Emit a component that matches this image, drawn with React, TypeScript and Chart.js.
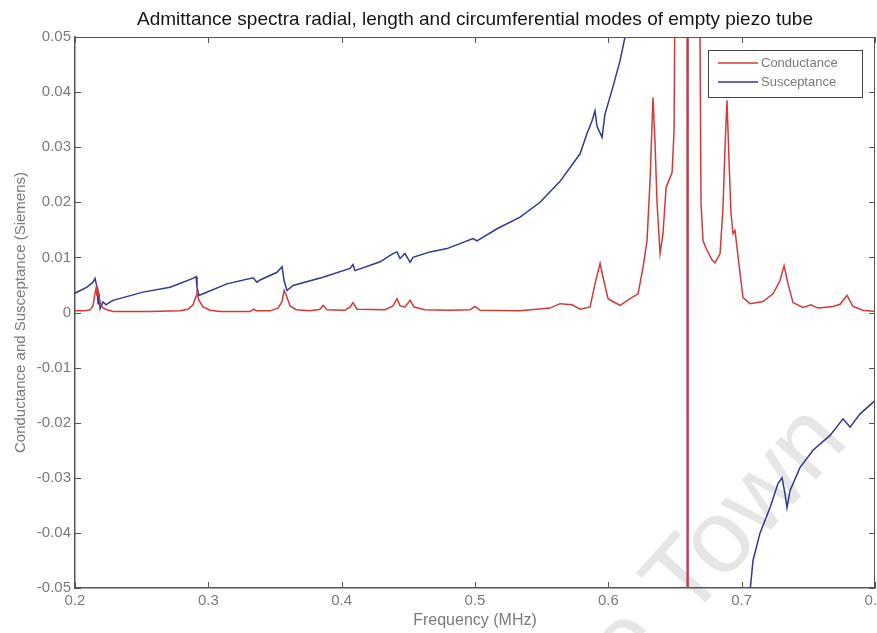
import React, { useEffect, useRef } from "react";
import { Chart, registerables } from "chart.js";

Chart.register(...registerables);

const TITLE = "Admittance spectra radial, length and circumferential modes of empty piezo tube";
const X_LABEL = "Frequency (MHz)";
const Y_LABEL = "Conductance and Susceptance (Siemens)";
const SERIES_NAMES = ["Conductance", "Susceptance"];
const WATERMARK = "University of Cape Town";

const X_TICKS = [0.2, 0.3, 0.4, 0.5, 0.6, 0.7, 0.8];
const Y_TICKS = [-0.05, -0.04, -0.03, -0.02, -0.01, 0, 0.01, 0.02, 0.03, 0.04, 0.05];

// Conductance G (Siemens) against frequency (MHz)
const condFreq = [
  0.2000, 0.2075, 0.2113, 0.2135, 0.2150, 0.2158, 0.2165, 0.2173, 0.2188, 0.2210,
  0.2240, 0.2285, 0.2563, 0.2788, 0.2848, 0.2885, 0.2908, 0.2915, 0.2930, 0.2960,
  0.3013, 0.3088, 0.3313, 0.3343, 0.3358, 0.3463, 0.3523, 0.3553, 0.3568, 0.3583,
  0.3613, 0.3658, 0.3763, 0.3838, 0.3860, 0.3890, 0.4025, 0.4063, 0.4085, 0.4115,
  0.4325, 0.4385, 0.4415, 0.4438, 0.4475, 0.4513, 0.4543, 0.4625, 0.4813, 0.4963,
  0.5000, 0.5038, 0.5338, 0.5563, 0.5638, 0.5728, 0.5788, 0.5863, 0.5900, 0.5938,
  0.5960, 0.5998, 0.6035, 0.6088, 0.6163, 0.6223, 0.6260, 0.6290, 0.6313, 0.6335,
  0.6350, 0.6365, 0.6388, 0.6410, 0.6433, 0.6478, 0.6493, 0.6508, 0.6550, 0.6590,
  0.6594, 0.6597, 0.6640, 0.6680, 0.6695, 0.6710, 0.6740, 0.6778, 0.6800, 0.6838,
  0.6860, 0.6875, 0.6890, 0.6905, 0.6920, 0.6935, 0.6950, 0.6965, 0.6988, 0.7010,
  0.7063, 0.7160, 0.7235, 0.7288, 0.7318, 0.7348, 0.7385, 0.7460, 0.7520, 0.7573,
  0.7685, 0.7738, 0.7790, 0.7835, 0.7910, 0.8000,
];
const condValues = [
  0.0003, 0.0003, 0.0005, 0.0012, 0.0035, 0.0044, 0.0030, 0.0040, 0.0018, 0.0008,
  0.0005, 0.0002, 0.0002, 0.0003, 0.0006, 0.0014, 0.0030, 0.0035, 0.0022, 0.0010,
  0.0004, 0.0002, 0.0002, 0.0006, 0.0003, 0.0003, 0.0008, 0.0020, 0.0040, 0.0032,
  0.0012, 0.0005, 0.0003, 0.0006, 0.0013, 0.0005, 0.0004, 0.0010, 0.0018, 0.0006,
  0.0005, 0.0012, 0.0025, 0.0012, 0.0010, 0.0022, 0.0010, 0.0005, 0.0004, 0.0005,
  0.0011, 0.0004, 0.0003, 0.0008, 0.0016, 0.0014, 0.0006, 0.0010, 0.0052, 0.0089,
  0.0064, 0.0025, 0.0020, 0.0013, 0.0025, 0.0034, 0.0082, 0.0130, 0.0240, 0.0390,
  0.0310, 0.0200, 0.0107, 0.0143, 0.0227, 0.0254, 0.0330, 0.0900, 0.1200, 0.2000,
  -0.3000, 0.2000, 0.1500, 0.0800, 0.0200, 0.0130, 0.0113, 0.0095, 0.0090, 0.0107,
  0.0190, 0.0300, 0.0385, 0.0276, 0.0180, 0.0143, 0.0149, 0.0118, 0.0071, 0.0027,
  0.0016, 0.0020, 0.0034, 0.0058, 0.0085, 0.0052, 0.0018, 0.0009, 0.0014, 0.0008,
  0.0011, 0.0015, 0.0031, 0.0011, 0.0004, 0.0002,
];

// Susceptance B (Siemens) against frequency (MHz)
const suscFreq = [
  0.2000, 0.2090, 0.2135, 0.2150, 0.2165, 0.2173, 0.2180, 0.2188, 0.2210, 0.2233,
  0.2263, 0.2285, 0.2510, 0.2713, 0.2885, 0.2908, 0.2915, 0.2930, 0.2960, 0.3140,
  0.3335, 0.3365, 0.3388, 0.3515, 0.3553, 0.3568, 0.3590, 0.3635, 0.3860, 0.4063,
  0.4085, 0.4100, 0.4288, 0.4385, 0.4415, 0.4438, 0.4475, 0.4513, 0.4535, 0.4663,
  0.4790, 0.4985, 0.5015, 0.5165, 0.5338, 0.5488, 0.5638, 0.5788, 0.5840, 0.5878,
  0.5900, 0.5915, 0.5953, 0.5975, 0.6035, 0.6088, 0.6125, 0.6200, 0.6400, 0.6550,
  0.6593, 0.6595, 0.6650, 0.6900, 0.7063, 0.7085, 0.7138, 0.7213, 0.7273, 0.7303,
  0.7325, 0.7340, 0.7363, 0.7438, 0.7535, 0.7663, 0.7760, 0.7813, 0.7888, 0.8000,
];
const suscValues = [
  0.0035, 0.0046, 0.0055, 0.0062, 0.0046, 0.0016, 0.0035, 0.0007, 0.0019, 0.0014,
  0.0019, 0.0022, 0.0037, 0.0046, 0.0062, 0.0065, 0.0046, 0.0031, 0.0034, 0.0052,
  0.0063, 0.0055, 0.0059, 0.0073, 0.0083, 0.0058, 0.0040, 0.0049, 0.0064, 0.0080,
  0.0087, 0.0076, 0.0092, 0.0107, 0.0110, 0.0098, 0.0107, 0.0091, 0.0100, 0.0110,
  0.0116, 0.0134, 0.0130, 0.0152, 0.0173, 0.0200, 0.0238, 0.0288, 0.0325, 0.0348,
  0.0366, 0.0338, 0.0318, 0.0360, 0.0410, 0.0457, 0.0500, 0.0580, 0.0900, 0.1800,
  0.3000, -0.3000, -0.1500, -0.0750, -0.0505, -0.0450, -0.0400, -0.0354, -0.0310, -0.0300,
  -0.0329, -0.0354, -0.0323, -0.0281, -0.0250, -0.0223, -0.0193, -0.0208, -0.0184, -0.0160,
];

const RED = "#d23a3a";
const BLUE = "#2f3a8f";
const AXIS = "#555555";
const LABEL = "#7a7a7a";
const FONT = "'Liberation Sans', Arial, sans-serif";

const toPoints = (xs: number[], ys: number[]) => xs.map((x, i) => ({ x, y: ys[i] }));

// faint diagonal watermark behind everything
const watermarkPlugin = {
  id: "watermark",
  beforeDraw(chart: any) {
    const { ctx } = chart;
    ctx.save();
    ctx.translate(850, 442);
    ctx.rotate((-48 * Math.PI) / 180);
    ctx.font = `104px ${FONT}`;
    ctx.fillStyle = "rgba(205,205,205,0.5)";
    ctx.textAlign = "right";
    ctx.textBaseline = "alphabetic";
    ctx.fillText(WATERMARK, 0, 0);
    ctx.restore();
  },
};

// boxed axes with inward tick marks on all four sides
const framePlugin = {
  id: "frame",
  afterDraw(chart: any) {
    const { ctx, chartArea: a, scales } = chart;
    const len = 6;
    ctx.save();
    ctx.strokeStyle = AXIS;
    ctx.lineWidth = 1;
    ctx.beginPath();
    ctx.moveTo(a.left, a.top + 0.5);
    ctx.lineTo(a.right, a.top + 0.5);
    ctx.moveTo(a.right - 0.5, a.top);
    ctx.lineTo(a.right - 0.5, a.bottom);
    for (const t of scales.x.ticks) {
      const px = Math.round(scales.x.getPixelForValue(t.value)) + 0.5;
      ctx.moveTo(px, a.bottom);
      ctx.lineTo(px, a.bottom - len);
      ctx.moveTo(px, a.top);
      ctx.lineTo(px, a.top + len);
    }
    for (const t of scales.y.ticks) {
      const py = Math.round(scales.y.getPixelForValue(t.value)) + 0.5;
      ctx.moveTo(a.left, py);
      ctx.lineTo(a.left + len, py);
      ctx.moveTo(a.right, py);
      ctx.lineTo(a.right - len, py);
    }
    ctx.stroke();
    ctx.restore();
  },
};

// boxed legend in the upper right corner of the plot
const boxLegendPlugin = {
  id: "boxLegend",
  afterDraw(chart: any) {
    const { ctx, chartArea: a } = chart;
    const w = 154;
    const h = 47;
    const x0 = a.right - 13 - w;
    const y0 = a.top + 13;
    ctx.save();
    ctx.fillStyle = "#ffffff";
    ctx.fillRect(x0, y0, w, h);
    ctx.strokeStyle = "#444444";
    ctx.lineWidth = 1;
    ctx.strokeRect(x0 + 0.5, y0 + 0.5, w, h);
    ctx.font = `13px ${FONT}`;
    ctx.textBaseline = "middle";
    ctx.textAlign = "left";
    chart.data.datasets.forEach((ds: any, i: number) => {
      const y = y0 + 13 + i * 19;
      ctx.strokeStyle = ds.borderColor;
      ctx.lineWidth = 1.5;
      ctx.beginPath();
      ctx.moveTo(x0 + 10, y);
      ctx.lineTo(x0 + 50, y);
      ctx.stroke();
      ctx.fillStyle = LABEL;
      ctx.fillText(ds.label, x0 + 53, y);
    });
    ctx.restore();
  },
};

export default function App() {
  const canvasRef = useRef<HTMLCanvasElement | null>(null);

  useEffect(() => {
    if (!canvasRef.current) return;
    const chart = new Chart(canvasRef.current, {
      type: "line",
      data: {
        datasets: [
          {
            label: SERIES_NAMES[0],
            data: toPoints(condFreq, condValues),
            borderColor: RED,
            borderWidth: 1.5,
            pointRadius: 0,
            tension: 0,
            fill: false,
          },
          {
            label: SERIES_NAMES[1],
            data: toPoints(suscFreq, suscValues),
            borderColor: BLUE,
            borderWidth: 1.5,
            pointRadius: 0,
            tension: 0,
            fill: false,
          },
        ],
      },
      options: {
        animation: false,
        responsive: true,
        maintainAspectRatio: false,
        layout: { padding: { left: 0, right: 2, top: 0, bottom: 0 } },
        plugins: {
          legend: { display: false },
          tooltip: { enabled: false },
          title: {
            display: true,
            text: TITLE,
            fullSize: false,
            color: "#151515",
            font: { family: FONT, size: 19, weight: "normal" },
            padding: { top: 8, bottom: 6.2 },
          },
        },
        scales: {
          x: {
            type: "linear",
            min: 0.2,
            max: 0.8,
            afterBuildTicks: (s: any) => {
              s.ticks = X_TICKS.map((v) => ({ value: v }));
            },
            afterFit: (s: any) => {
              s.height = 45;
              s.paddingLeft = 0;
              s.paddingRight = 0;
            },
            grid: { display: false, drawTicks: false },
            border: { display: true, color: AXIS, width: 1.5 },
            ticks: {
              color: LABEL,
              padding: 4,
              maxRotation: 0,
              font: { family: FONT, size: 15 },
              callback: (v: any) => (Math.round(Number(v) * 10) / 10).toFixed(1),
            },
            title: {
              display: true,
              text: X_LABEL,
              color: LABEL,
              font: { family: FONT, size: 16 },
              padding: { top: 0, bottom: 3 },
            },
          },
          y: {
            type: "linear",
            min: -0.05,
            max: 0.05,
            afterBuildTicks: (s: any) => {
              s.ticks = Y_TICKS.map((v) => ({ value: v }));
            },
            afterFit: (s: any) => {
              s.width = 75;
            },
            grid: { display: false, drawTicks: false },
            border: { display: true, color: AXIS, width: 1.5 },
            ticks: {
              color: LABEL,
              padding: 4,
              font: { family: FONT, size: 15 },
              callback: (v: any) => {
                const n = Math.round(Number(v) * 100) / 100;
                return n === 0 ? "0" : n.toFixed(2);
              },
            },
            title: {
              display: true,
              text: Y_LABEL,
              color: LABEL,
              font: { family: FONT, size: 15 },
              padding: { top: 12, bottom: 0 },
            },
          },
        },
      },
      plugins: [watermarkPlugin, framePlugin, boxLegendPlugin],
    } as any);
    return () => chart.destroy();
  }, []);

  return (
    <div style={{ position: "absolute", left: 0, top: 0, width: 877, height: 633, background: "#ffffff" }}>
      <canvas ref={canvasRef} />
    </div>
  );
}
